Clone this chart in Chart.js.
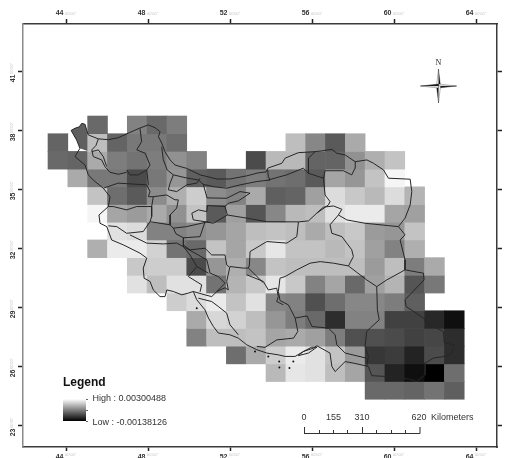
<!DOCTYPE html>
<html>
<head>
<meta charset="utf-8">
<title>Map</title>
<style>
	html, body { margin: 0; padding: 0; background: #fff; overflow: hidden; }
	canvas { display: block; filter: blur(0.45px); }
</style>
<script src="https://cdn.jsdelivr.net/npm/chart.js@4"></script>
</head>
<body>
<canvas id="map" width="505" height="458"></canvas>
<script>
const lonTicks = [44, 48, 52, 56, 60, 64];
const latTicks = [23, 26, 29, 32, 35, 38, 41];
const legendHigh = 3.00488; // x 10^-3
const legendLow = -1.38126;

// raster cell centres, degrees
const cellLons = [43.557, 44.524, 45.491, 46.457, 47.424, 48.391, 49.358, 50.325, 51.291, 52.258, 53.225, 54.192, 55.159, 56.126, 57.092, 58.059, 59.026, 59.993, 60.96, 61.926, 62.893];
const cellLats = [38.262, 37.362, 36.462, 35.562, 34.662, 33.762, 32.862, 31.962, 31.062, 30.162, 29.262, 28.362, 27.462, 26.562, 25.662, 24.762];
const cellHalfLat = 0.45;

// raster values x 10^-3, one row per latitude
const _ = null;
const cellValues = [
	[_, _, 0.43, _, 0.86, 0.43, 0.77, _, _, _, _, _, _, _, _, _, _, _, _, _, _],
	[0.34, _, 1.89, 0.34, 0.68, 0.68, 0.51, _, _, _, _, _, 1.89, 0.94, 0.17, 1.54, _, _, _, _, _],
	[0.43, 0.34, 1.54, 0.77, 0.60, 0.77, 1.11, 0.86, _, _, -0.09, 1.80, 1.80, 0.34, 0.34, 1.11, 1.63, 1.97, _, _, _],
	[_, 1.54, 0.68, 0.68, -0.09, 0.68, 1.20, 0.25, 0.17, 0.60, 0.77, 0.60, 0.51, 0.17, 1.46, 1.20, 1.97, 2.83, _, _, _],
	[_, _, 1.97, 0.51, 0.17, 1.03, 1.63, 2.14, 1.03, 0.86, 1.54, 0.25, 0.34, 1.37, 2.40, 2.06, 1.80, 2.40, 1.71, _, _],
	[_, _, 2.83, 1.46, 1.28, 1.54, 1.11, 1.97, 0.17, 1.37, 0.08, 0.94, 1.80, 1.89, 2.49, 2.66, 2.66, 1.46, 1.37, _, _],
	[_, _, _, 2.49, 2.40, 0.86, 0.86, 1.03, 1.20, 1.46, 1.89, 1.97, 1.89, 1.54, 1.89, 2.06, 1.28, 1.20, 1.97, _, _],
	[_, _, 1.63, 2.66, 2.66, 2.23, 0.60, 0.43, 1.97, 1.46, 2.06, 2.57, 1.97, 1.97, 1.80, 1.97, 1.37, 0.86, 1.63, _, _],
	[_, _, _, _, 2.06, 2.14, 2.14, -0.09, 1.20, 1.63, 0.94, 1.97, 1.89, 1.89, 1.89, 1.89, 1.28, 1.89, 0.77, 1.54, _],
	[_, _, _, _, 2.49, 1.89, 2.49, 2.49, 0.60, 1.71, 2.06, 2.57, 2.06, 0.86, 1.46, 0.43, 1.37, 1.71, 0.08, 0.68, _],
	[_, _, _, _, _, _, 2.14, 2.40, 2.66, 1.97, 2.49, 0.94, 0.86, -0.01, 0.51, 0.94, 0.94, 0.77, 0.25, _, _],
	[_, _, _, _, _, _, _, 1.54, 2.32, 2.23, 1.89, 1.20, 0.77, 0.43, -0.61, 0.86, 0.86, -0.26, -0.26, -0.69, -1.12],
	[_, _, _, _, _, _, _, 0.86, 1.89, 1.89, 1.97, 1.46, 1.54, 1.37, 0.77, -0.01, -0.01, -0.09, -0.26, -0.18, -0.61],
	[_, _, _, _, _, _, _, _, _, 0.51, 1.54, 2.14, 2.66, 2.49, 1.97, 1.28, -0.43, -0.35, -0.78, -0.09, -0.61],
	[_, _, _, _, _, _, _, _, _, _, _, 1.80, 2.57, 2.49, 1.89, 1.46, 0.08, -0.78, -1.12, -1.38, 0.51],
	[_, _, _, _, _, _, _, _, _, _, _, _, _, _, _, _, 0.43, 0.43, 0.34, 0.60, 0.25]
];

// boundaries as [lon, lat]
const nwCorner = [[44.20, 37.98], [44.39, 38.09], [44.60, 38.16], [44.72, 38.34], [44.88, 38.29], [44.96, 38.00], [45.00, 37.80], [45.00, 36.93], [44.63, 37.07], [44.47, 37.49], [44.20, 37.98]];
const countryBorder = [
	[44.20, 37.98], [44.39, 38.09], [44.60, 38.16], [44.72, 38.34], [44.88, 38.29], [44.96, 38.00], [45.04, 37.75], [45.53, 37.55], [46.02, 37.51], [46.50, 37.61], [46.99, 37.84], [47.53, 38.09], [47.97, 38.26], [48.29, 38.12], [48.54, 37.92], [48.46, 37.66], [48.62, 37.34], [48.78, 36.90], [49.03, 36.48], [49.27, 36.22], [49.84, 36.05], [50.49, 35.72], [51.31, 35.51], [51.95, 35.51], [52.77, 35.67], [53.32, 35.82], [53.71, 35.87], [53.81, 36.07],
	[54.48, 36.31], [54.64, 36.57], [55.29, 36.85], [56.10, 36.90], [56.43, 36.94], [56.92, 37.02], [57.16, 36.82], [57.57, 36.73], [58.06, 36.39], [58.63, 36.48], [58.95, 36.31], [59.44, 35.97], [59.68, 35.55], [60.74, 35.50], [60.82, 34.87], [60.74, 34.19], [60.49, 33.52], [60.17, 33.09], [60.49, 32.67], [60.25, 32.41], [60.49, 31.40], [60.49, 30.89], [61.39, 30.72], [61.42, 30.38], [60.49, 29.37], [60.54, 29.03], [61.39, 28.44], [61.55, 28.18], [62.36, 27.76], [62.41, 27.17], [62.89, 27.08], [62.77, 26.66], [62.45, 26.49], [61.88, 26.41], [61.47, 26.15], [61.47, 25.56], [61.06, 25.22],
	[60.65, 25.34], [60.09, 25.47], [59.60, 25.47], [58.87, 25.51], [58.70, 25.98], [57.97, 26.15], [57.57, 26.23], [57.08, 25.72], [56.92, 25.98], [56.83, 26.66], [56.19, 27.03], [56.02, 26.91], [55.53, 26.74], [55.13, 26.49], [54.64, 26.49], [54.31, 26.57], [53.75, 26.66], [53.26, 26.83], [52.77, 27.08], [52.36, 27.42], [51.95, 27.59], [51.38, 27.68], [51.14, 28.01], [50.90, 28.44], [50.73, 28.86], [50.33, 29.37], [50.16, 29.79], [49.92, 29.71], [49.60, 29.62], [49.19, 29.79], [48.87, 29.87], [48.78, 29.53], [48.54, 29.53], [48.21, 29.87], [48.05, 30.30], [47.76, 30.47], [47.72, 30.98], [47.89, 31.49], [47.56, 31.74], [46.75, 32.16], [46.18, 32.41], [45.94, 33.09], [45.61, 33.26], [45.56, 33.68], [46.02, 34.11], [46.10, 34.61], [45.77, 35.04], [45.28, 35.46], [45.04, 35.72], [44.88, 36.22], [44.39, 36.65], [44.63, 37.07], [44.47, 37.49], [44.20, 37.98]
];
const azerbaijanWest = [[45.53, 37.55], [45.41, 37.21], [45.21, 36.99], [45.28, 36.65], [45.69, 36.48], [45.85, 36.14], [46.10, 35.85], [46.50, 35.75], [46.91, 35.85]];
const lakeLoop = [[45.21, 36.90], [45.53, 36.99], [45.77, 36.65], [45.94, 36.14]];
const ardabilLine = [[47.56, 38.09], [47.64, 37.41], [47.40, 36.99], [47.81, 36.82], [48.05, 36.22], [47.89, 35.97], [47.48, 35.72], [47.07, 35.72], [46.91, 35.97]];
const alborzLine = [[48.62, 37.15], [48.70, 36.48], [48.89, 35.97], [49.19, 35.72], [49.84, 35.56], [50.41, 35.46], [50.65, 35.24], [51.14, 35.12], [51.79, 35.04], [52.44, 35.21], [53.26, 35.38], [53.91, 35.46], [53.82, 35.63], [53.79, 35.97]];
const semnanLine = [[53.82, 35.46], [54.72, 35.72], [55.53, 36.06], [55.78, 35.80], [56.51, 35.55], [56.59, 34.70], [56.83, 34.36], [56.75, 34.19], [56.18, 33.77], [55.78, 33.38], [55.29, 33.33], [53.75, 33.34], [52.77, 33.52], [51.82, 33.68]];
const golestanEast = [[56.10, 36.90], [55.78, 36.57], [55.78, 35.80]];
const khorasanNorth = [[56.51, 35.55], [56.59, 35.93], [57.48, 35.93], [57.89, 35.72], [58.05, 36.06], [58.06, 36.39]];
const khorasanRazavi = [[56.18, 33.77], [56.51, 34.08], [57.00, 34.14], [57.41, 33.97], [57.24, 33.68], [57.65, 33.43], [58.54, 33.26], [59.68, 33.14], [60.17, 33.09]];
const khorasanSouth = [[57.24, 33.68], [56.83, 33.18], [56.92, 32.75], [57.41, 32.58], [57.89, 31.91], [57.97, 31.57], [57.73, 31.09]];
const kermanNorth = [[60.49, 30.89], [59.60, 30.38], [59.11, 30.04], [58.62, 30.38], [57.73, 31.09], [57.00, 31.23], [56.35, 31.31], [55.86, 31.23], [55.21, 30.89], [54.64, 30.55], [54.39, 30.47], [54.31, 29.79], [54.39, 29.33], [54.80, 29.11], [55.13, 28.44], [55.71, 28.55], [55.95, 28.01], [56.75, 27.93], [57.08, 27.59], [57.16, 27.08], [57.57, 26.66], [58.62, 26.40]];
const kermanEast = [[59.11, 30.04], [59.14, 28.86], [59.23, 28.35], [58.79, 27.93], [58.62, 27.76], [58.54, 27.00], [58.70, 26.49], [58.62, 25.98]];
const hormozganWest = [[55.13, 28.44], [55.26, 27.76], [55.05, 27.42], [54.23, 27.33], [53.66, 26.95], [53.26, 27.00]];
const farsNorth = [[52.77, 30.64], [53.58, 30.30], [53.82, 29.87], [54.23, 29.96], [54.31, 29.53], [54.23, 29.28], [54.56, 29.11]];
const yazdLine = [[55.29, 33.33], [55.21, 32.58], [54.72, 32.25], [53.75, 32.33], [52.93, 31.82], [52.90, 31.14], [52.85, 30.98], [53.58, 30.23]];
const isfahanSouth = [[52.85, 30.98], [52.60, 30.98], [51.95, 31.06], [51.79, 30.30], [51.87, 29.87], [51.71, 29.98], [51.31, 29.79], [51.06, 29.53], [50.73, 29.62], [50.16, 29.79]];
const bushehrLine = [[50.41, 29.45], [51.06, 29.28], [51.38, 29.03], [51.79, 28.69], [51.95, 28.10], [52.36, 27.59]];
const khuzestanLine = [[47.07, 32.67], [47.89, 32.25], [48.70, 32.21], [49.35, 32.25], [49.68, 32.07], [50.00, 31.65], [50.33, 31.06], [49.92, 30.55], [50.57, 30.13], [50.49, 29.77]];
const chaharLine = [[49.68, 32.07], [50.82, 31.40], [50.98, 30.72], [51.38, 30.55], [51.71, 30.21], [51.31, 29.79]];
const kohLine = [[50.33, 31.06], [50.90, 30.72]];
const lorestanTop = [[48.05, 33.34], [49.03, 33.18], [49.19, 33.01], [49.84, 33.09], [50.89, 33.34]];
const lorestanEast = [[49.19, 33.01], [49.32, 32.72], [49.68, 32.52], [49.68, 32.07]];
const isfahanWest = [[49.68, 32.16], [50.00, 31.91], [50.73, 31.99], [51.06, 31.65], [51.71, 31.65], [51.79, 31.14], [51.91, 31.04]];
const qomSouth = [[49.68, 32.52], [50.49, 32.58], [50.73, 33.33]];
const qomLoop = [[50.85, 34.16], [51.71, 34.11], [51.82, 33.68], [51.14, 33.26], [50.73, 33.34], [50.16, 33.43], [50.09, 33.77], [50.41, 33.94], [50.82, 33.85], [50.85, 34.16]];
const tehranLine = [[51.71, 34.11], [51.87, 34.28], [52.36, 34.40], [52.93, 34.79], [52.44, 34.87], [51.79, 34.53], [50.83, 34.55], [50.65, 35.24]];
const qazvinLine = [[49.19, 35.72], [49.03, 35.30], [48.94, 34.96], [49.35, 34.87], [49.84, 35.21], [50.33, 35.30], [50.49, 35.55]];
const kurdistanLine = [[45.77, 35.04], [46.50, 35.30], [47.89, 35.21], [48.05, 34.87], [47.97, 34.61], [48.21, 34.61], [48.86, 34.70], [49.27, 34.45], [49.43, 34.45], [49.35, 34.03], [49.03, 33.68], [49.03, 33.18]];
const kermanshahLine = [[46.02, 34.11], [46.26, 34.11], [46.91, 33.94], [47.40, 34.11], [48.13, 34.11], [48.13, 33.60], [48.05, 33.34]];
const hamedanLine = [[48.21, 34.61], [48.13, 34.11]];
const ilamLine = [[46.02, 33.13], [46.43, 33.09], [46.91, 32.75], [47.72, 32.84], [48.05, 33.34]];
const zanjanLine = [[47.89, 35.97], [47.97, 35.21]];
const qeshmIsland = [[55.53, 26.74], [55.94, 26.96], [56.19, 26.96], [55.78, 26.66], [55.29, 26.53], [55.53, 26.74]];
const smallIslands = [[54.35, 26.23], [55.04, 26.23], [54.36, 25.93], [54.85, 25.90], [50.33, 28.94], [53.17, 26.74], [53.82, 26.49]];

const boundaryLines = [countryBorder, azerbaijanWest, lakeLoop, ardabilLine, alborzLine, semnanLine, golestanEast, khorasanNorth, khorasanRazavi, khorasanSouth, kermanNorth, kermanEast, hormozganWest, farsNorth, yazdLine, isfahanSouth, bushehrLine, khuzestanLine, chaharLine, kohLine, lorestanTop, lorestanEast, isfahanWest, qomSouth, qomLoop, tehranLine, qazvinLine, kurdistanLine, kermanshahLine, hamedanLine, ilamLine, zanjanLine, qeshmIsland];

function toGrey(value) {
	const t = (value - legendLow) / (legendHigh - legendLow);
	const g = Math.round(Math.max(0, Math.min(1, t)) * 255);
	return `rgb(${g},${g},${g})`;
}

function toPoints(pairs) {
	return pairs.map(p => ({ x: p[0], y: p[1] }));
}

const datasets = [];

boundaryLines.forEach(line => {
	datasets.push({
		type: 'scatter',
		data: toPoints(line),
		showLine: true,
		borderColor: '#262626',
		borderWidth: 1,
		pointRadius: 0,
		order: 1,
	});
});

datasets.push({
	type: 'scatter',
	data: toPoints(smallIslands),
	pointRadius: 1,
	pointBackgroundColor: '#111',
	pointBorderWidth: 0,
	order: 1,
});

datasets.push({
	type: 'scatter',
	data: toPoints(nwCorner),
	showLine: true,
	fill: 'shape',
	backgroundColor: 'rgb(95,95,95)',
	borderWidth: 0,
	pointRadius: 0,
	order: 2,
});

cellValues.forEach((row, r) => {
	const cols = [];
	row.forEach((v, c) => {
		if (v !== null) cols.push(c);
	});
	datasets.push({
		type: 'bar',
		data: cols.map(c => ({
			x: cellLons[c],
			y: [cellLats[r] - cellHalfLat, cellLats[r] + cellHalfLat],
		})),
		backgroundColor: cols.map(c => toGrey(row[c])),
		borderWidth: 0,
		grouped: false,
		barPercentage: 1,
		categoryPercentage: 1,
		order: 3,
	});
});

const tickFont = { family: '"Liberation Sans", Arial, sans-serif', size: 7, weight: 'bold' };

function lonAxis(position, size, tickLength, showLabels) {
	return {
		type: 'linear',
		position: position,
		offset: false,
		min: 41.854,
		max: 64.976,
		afterBuildTicks: s => {
			s.ticks = lonTicks.map(v => ({ value: v }));
		},
		afterFit: s => {
			s.height = size;
		},
		grid: { offset: false, drawOnChartArea: false, tickLength: tickLength, tickColor: '#222', tickWidth: 1.5 },
		border: { color: '#3a3a3a', width: 1.5 },
		ticks: {
			display: showLabels,
			autoSkip: false,
			maxRotation: 0,
			align: 'end',
			padding: 2,
			color: '#333',
			font: tickFont,
			callback: v => v + '\u2002',
		},
	};
}

function latAxis(position, size, color, showLabels) {
	return {
		type: 'linear',
		position: position,
		min: 21.885,
		max: 43.39,
		afterBuildTicks: s => {
			s.ticks = latTicks.map(v => ({ value: v }));
		},
		afterFit: s => {
			s.width = size;
		},
		grid: { drawOnChartArea: false, tickLength: 5, tickColor: '#222', tickWidth: 1.5 },
		border: { color: color, width: 1.5 },
		ticks: {
			display: showLabels,
			autoSkip: false,
			minRotation: 90,
			maxRotation: 90,
			padding: 5,
			color: '#333',
			font: tickFont,
			callback: v => v + '\u2002',
		},
	};
}

// tiny pale seconds labels, compass, ramp and scale bar around the map
const mapFurniture = {
	id: 'mapFurniture',
	afterDraw(chart) {
		const ctx = chart.ctx;
		ctx.save();

		ctx.fillStyle = '#c4c4c4';
		ctx.font = '4px "Liberation Sans", Arial, sans-serif';
		ctx.textBaseline = 'middle';
		ctx.textAlign = 'left';
		lonTicks.forEach(v => {
			const x = chart.scales.x.getPixelForValue(v);
			ctx.fillText('00\'00"', x - 2, 14);
			ctx.fillText('00\'00"', x - 2, 455);
		});
		latTicks.forEach(v => {
			const y = chart.scales.y.getPixelForValue(v);
			ctx.save();
			ctx.translate(12, y + 3);
			ctx.rotate(-Math.PI / 2);
			ctx.fillText('00\'00"', 0, 0);
			ctx.restore();
		});

		// legend
		ctx.fillStyle = '#111';
		ctx.font = 'bold 12px "Liberation Sans", Arial, sans-serif';
		ctx.fillText('Legend', 63, 383);
		const ramp = ctx.createLinearGradient(0, 399, 0, 421);
		ramp.addColorStop(0, '#fff');
		ramp.addColorStop(1, '#000');
		ctx.fillStyle = ramp;
		ctx.fillRect(63, 399, 23, 22);
		ctx.strokeStyle = '#666';
		ctx.lineWidth = 1;
		[399, 410, 421].forEach(y => {
			ctx.beginPath();
			ctx.moveTo(86, y + 0.5);
			ctx.lineTo(88, y + 0.5);
			ctx.stroke();
		});
		ctx.fillStyle = '#333';
		ctx.font = '9px "Liberation Sans", Arial, sans-serif';
		ctx.fillText('High : ' + '0.00300488', 92.5, 399);
		ctx.fillText('Low : ' + '-0.00138126', 92.5, 423);

		// scale bar
		ctx.textAlign = 'center';
		[['0', 304], ['155', 333.5], ['310', 362], ['620', 419]].forEach(l => {
			ctx.fillText(l[0], l[1], 418);
		});
		ctx.textAlign = 'left';
		ctx.fillText('Kilometers', 431, 418);
		ctx.strokeStyle = '#333';
		ctx.beginPath();
		ctx.moveTo(304, 433.5);
		ctx.lineTo(420, 433.5);
		[304, 362, 419.5].forEach(x => {
			ctx.moveTo(x + 0.5, 427);
			ctx.lineTo(x + 0.5, 433.5);
		});
		[319, 333, 347, 376, 391, 405].forEach(x => {
			ctx.moveTo(x + 0.5, 430);
			ctx.lineTo(x + 0.5, 433.5);
		});
		ctx.stroke();

		// north arrow
		const cx = 438.5;
		const cy = 86;
		const arms = [
			[0, -17, 2, 0, '#000'], [0, -17, -2, 0, '#fff'],
			[18, 0, 0, 2, '#000'], [18, 0, 0, -2, '#fff'],
			[0, 17, -2, 0, '#000'], [0, 17, 2, 0, '#fff'],
			[-18, 0, 0, -2, '#000'], [-18, 0, 0, 2, '#fff'],
		];
		ctx.strokeStyle = '#444';
		ctx.lineWidth = 0.4;
		arms.forEach(a => {
			ctx.beginPath();
			ctx.moveTo(cx + a[0], cy + a[1]);
			ctx.lineTo(cx + a[2], cy + a[3]);
			ctx.lineTo(cx, cy);
			ctx.closePath();
			ctx.fillStyle = a[4];
			ctx.fill();
			ctx.stroke();
		});
		ctx.fillStyle = '#222';
		ctx.font = '8px "Liberation Serif", serif';
		ctx.textAlign = 'center';
		ctx.fillText('N', cx, 63);

		ctx.restore();
	},
};

new Chart(document.querySelector('#map'), {
	type: 'bar',
	data: { datasets: datasets },
	plugins: [mapFurniture],
	options: {
		responsive: false,
		animation: false,
		events: [],
		layout: { padding: 0 },
		plugins: {
			legend: { display: false },
			tooltip: { enabled: false },
			title: { display: false },
		},
		scales: {
			x: lonAxis('bottom', 11, 4, true),
			x2: lonAxis('top', 24, 5, true),
			y: latAxis('left', 23, '#8a8a8a', true),
			y2: latAxis('right', 8, '#3a3a3a', false),
		},
	},
});
</script>
</body>
</html>
